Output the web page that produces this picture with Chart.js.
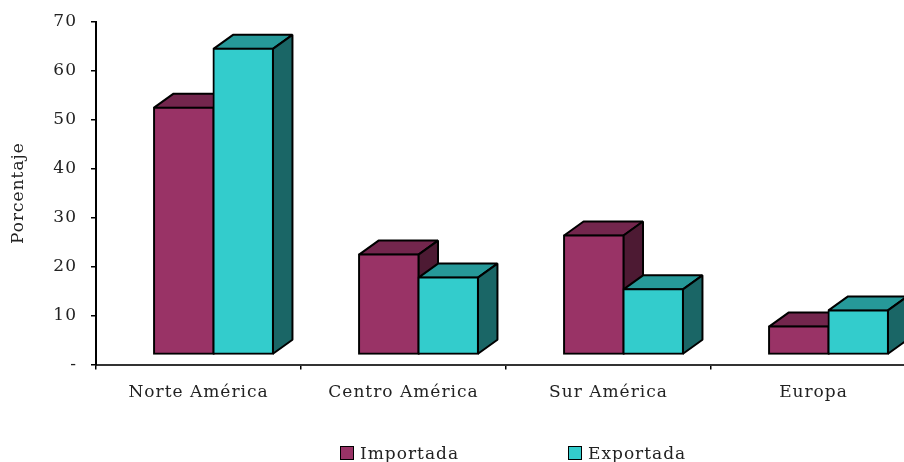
<!DOCTYPE html>
<html>
<head>
<meta charset="utf-8">
<script src="https://cdn.jsdelivr.net/npm/chart.js@4"></script>
<style>
  html, body { margin: 0; padding: 0; background: #fff; overflow: hidden; width: 904px; height: 462px; position: relative; }
  canvas { display: block; }
  .leyenda { position: absolute; top: 444px; height: 18px; white-space: nowrap; font: 17px/19px 'DejaVu Serif', serif; letter-spacing: 1px; color: #222; overflow: visible; }
  .leyenda i { position: absolute; left: 0; top: 2px; width: 12px; height: 12px; border: 1.5px solid #000; }
  .leyenda span { position: absolute; left: 20px; top: 0; }
</style>
</head>
<body>
<canvas id="grafico" width="930" height="462" style="width:930px;height:462px"></canvas>
<div class="leyenda" id="ley0" style="left:340px"></div>
<div class="leyenda" id="ley1" style="left:568px"></div>
<script>
const categorias = ["Norte América", "Centro América", "Sur América", "Europa"];
const importada = [50.4, 20.4, 24.3, 5.7];
const exportada = [62.4, 15.7, 13.3, 9.0];

const fuente = "'DejaVu Serif', serif";
const negro = "#000";
const texto = "#222";

// desplazamiento del frente de las barras y profundidad del efecto 3D
const despX = 15;
const despY = -10;
const fondoX = 19.5;
const fondoY = 14;

function dibujarCaras(ctx, ds, meta) {
  ctx.lineWidth = 2;
  ctx.lineJoin = "bevel";
  ctx.strokeStyle = negro;
  meta.data.forEach((bar) => {
    const izq = bar.x - bar.width / 2;
    const der = bar.x + bar.width / 2;
    ctx.fillStyle = ds.colorArriba;
    ctx.beginPath();
    ctx.moveTo(izq, bar.y);
    ctx.lineTo(izq + fondoX, bar.y - fondoY);
    ctx.lineTo(der + fondoX, bar.y - fondoY);
    ctx.lineTo(der, bar.y);
    ctx.closePath();
    ctx.fill();
    ctx.stroke();
    ctx.fillStyle = ds.colorLado;
    ctx.beginPath();
    ctx.moveTo(der, bar.y);
    ctx.lineTo(der + fondoX, bar.y - fondoY);
    ctx.lineTo(der + fondoX, bar.base - fondoY);
    ctx.lineTo(der, bar.base);
    ctx.closePath();
    ctx.fill();
    ctx.stroke();
  });
}

// Importada primero para que Exportada la tape, como en el original
const barras3d = {
  id: "barras3d",
  beforeDraw(chart) {
    // el canvas pierde este valor cada vez que Chart.js lo redimensiona
    chart.ctx.letterSpacing = "1px";
  },
  beforeDatasetsDraw(chart) {
    const ctx = chart.ctx;
    ctx.save();
    ctx.translate(despX, despY);
    chart.getSortedVisibleDatasetMetas().forEach((meta) => {
      dibujarCaras(ctx, chart.data.datasets[meta.index], meta);
      meta.controller.draw();
    });
    ctx.restore();
    return false;
  },
};

document.addEventListener("DOMContentLoaded", () => {
  const ctx = document.getElementById("grafico").getContext("2d");
  const grafico = new Chart(ctx, {
    type: "bar",
    data: {
      labels: categorias,
      datasets: [
        {
          label: "Importada",
          data: importada,
          backgroundColor: "#993366",
          colorArriba: "#73264D",
          colorLado: "#4D1A33",
          borderColor: negro,
          borderWidth: 2,
          borderSkipped: false,
          inflateAmount: 1,
        },
        {
          label: "Exportada",
          data: exportada,
          backgroundColor: "#33CCCC",
          colorArriba: "#269999",
          colorLado: "#1A6666",
          borderColor: negro,
          borderWidth: 2,
          borderSkipped: false,
          inflateAmount: 1,
        },
      ],
    },
    options: {
      responsive: false,
      animation: false,
      layout: { padding: { top: 14, right: 14, bottom: 39.5, left: 0 } },
      datasets: { bar: { barPercentage: 1, categoryPercentage: 0.58 } },
      plugins: {
        tooltip: { enabled: false },
        legend: { display: false },
      },
      scales: {
        x: {
          afterFit: (s) => { s.height = 58; },
          grid: { drawOnChartArea: false, color: negro, tickLength: 5, lineWidth: 1.5 },
          border: { color: "#333", width: 2 },
          ticks: { color: texto, padding: 13, maxRotation: 0, font: { family: fuente, size: 17 } },
        },
        y: {
          min: 0,
          max: 70,
          afterFit: (s) => { s.width = 96; },
          grid: { drawOnChartArea: false, color: negro, tickLength: 5, lineWidth: 1.5 },
          border: { color: negro, width: 2 },
          title: {
            display: true,
            text: "Porcentaje",
            color: texto,
            padding: { top: 8, bottom: 0 },
            font: { family: fuente, size: 17 },
          },
          ticks: {
            stepSize: 10,
            padding: 14,
            color: texto,
            font: { family: fuente, size: 17, lineHeight: 0.9 },
            callback: (v) => (v === 0 ? "-" : v),
          },
        },
      },
    },
    plugins: [barras3d],
  });

  // leyenda en HTML con los datos de cada serie
  grafico.data.datasets.forEach((ds, i) => {
    const caja = document.createElement("i");
    caja.style.background = ds.backgroundColor;
    const nombre = document.createElement("span");
    nombre.textContent = ds.label;
    document.getElementById("ley" + i).append(caja, nombre);
  });
});
</script>
</body>
</html>
